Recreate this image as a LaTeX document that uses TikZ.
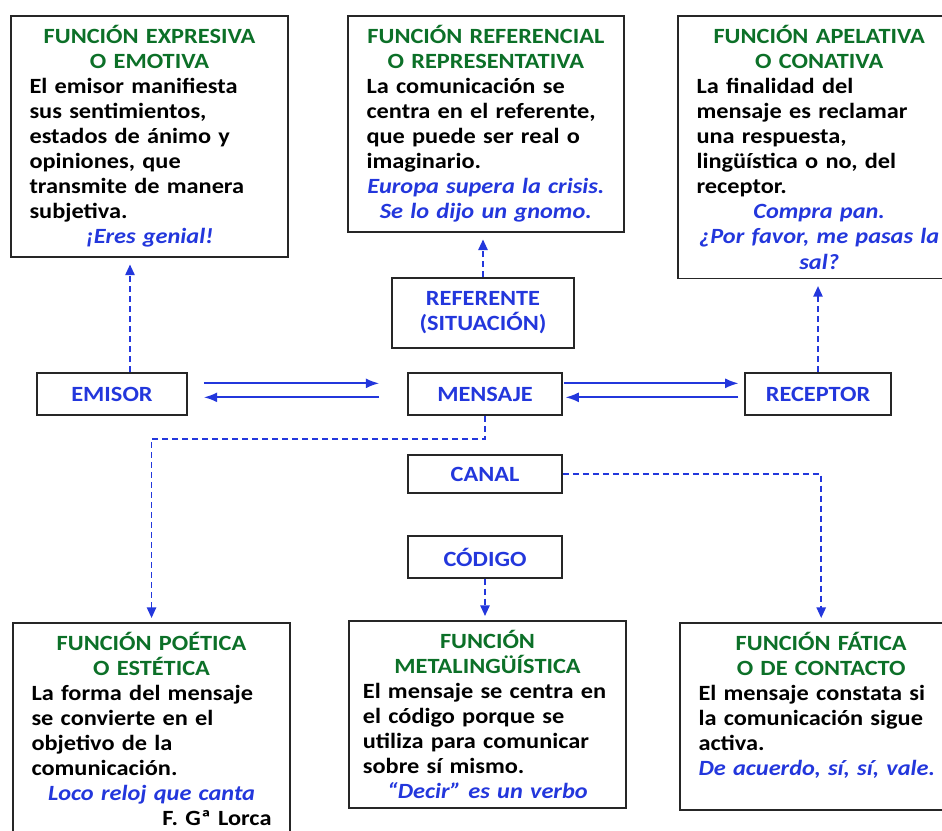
\documentclass[tikz,border=0pt]{standalone}
\usepackage{fontspec}
\setmainfont{Carlito}[FakeStretch=1.12]
\usetikzlibrary{arrows.meta}

\definecolor{verdet}{RGB}{12,112,40}
\definecolor{azul}{RGB}{35,55,220}
\newcommand{\titulo}[1]{{\centering\color{verdet}#1\par}}
\newcommand{\ejemplo}[1]{{\centering\color{azul}\itshape #1\par}}

\begin{document}
\begin{tikzpicture}[x=0.75pt,y=-0.75pt,
  every node/.style={font=\fontsize{16.3pt}{18.8pt}\selectfont\bfseries},
  funcion/.style={draw=black!85, line width=1.3pt, anchor=north west,
    inner xsep=14pt, inner ysep=7pt, text width=#1},
  caja/.style={draw=black!85, line width=1.3pt, text=azul, align=center},
  flecha/.style={draw=azul, line width=1.3pt, -{Latex[length=10pt,width=7.5pt]}},
  punteada/.style={draw=azul, line width=1.3pt, dash pattern=on 4.5pt off 3pt,
    -{Triangle[length=8pt,width=7pt]}, shorten >=5pt}]
  \useasboundingbox (0,0) rectangle (942,831);

  % funciones de arriba
  \node[funcion=180pt] (expresiva) at (10,15) {\titulo{FUNCIÓN EXPRESIVA\\O EMOTIVA}
    \raggedright El emisor manifiesta\\ sus sentimientos,\\ estados de ánimo y\\
    opiniones, que\\ transmite de manera\\ subjetiva.\par
    \ejemplo{¡Eres genial!}};
  \node[funcion=179pt] (referencial) at (347,15) {\titulo{FUNCIÓN REFERENCIAL\\O REPRESENTATIVA}
    \raggedright La comunicación se\\ centra en el referente,\\ que puede ser real o\\
    imaginario.\par
    \ejemplo{Europa supera la crisis.\\ Se lo dijo un gnomo.}};
  \node[funcion=184pt] (apelativa) at (677,15) {\titulo{FUNCIÓN APELATIVA\\O CONATIVA}
    \raggedright La finalidad del\\ mensaje es reclamar\\ una respuesta,\\
    lingüística o no, del\\ receptor.\par
    \ejemplo{Compra pan.\\ ¿Por favor, me pasas la\\ sal?}};

  % elementos de la comunicacion
  \node[caja, minimum width=136.5pt, minimum height=52.5pt] (referente) at (483,313) {REFERENTE\\(SITUACIÓN)};
  \node[caja, minimum width=112.5pt, minimum height=31.5pt] (emisor) at (112,394) {EMISOR};
  \node[caja, minimum width=115.5pt, minimum height=31.5pt] (mensaje) at (485,394) {MENSAJE};
  \node[caja, minimum width=110pt, minimum height=31.5pt] (receptor) at (818,394) {RECEPTOR};
  \node[caja, minimum width=115.5pt, minimum height=28.5pt] (canal) at (485,474) {CANAL};
  \node[caja, minimum width=115.5pt, minimum height=31pt] (codigo) at (485,557) {CÓDIGO};

  % funciones de abajo
  \node[funcion=180pt] (poetica) at (12,622) {\titulo{FUNCIÓN POÉTICA\\O ESTÉTICA}
    \raggedright La forma del mensaje\\ se convierte en el\\ objetivo de la\\
    comunicación.\par
    \ejemplo{Loco reloj que canta}
    {\raggedleft F. Gª Lorca\par}};
  \node[funcion=187pt, inner xsep=10.5pt] (metaling) at (348,620) {\titulo{FUNCIÓN\\METALINGÜÍSTICA}
    \raggedright El mensaje se centra en\\ el código porque se\\ utiliza para comunicar\\
    sobre sí mismo.\par
    \ejemplo{“Decir” es un verbo}};
  \node[funcion=184pt] (fatica) at (679,622) {\titulo{FUNCIÓN FÁTICA\\O DE CONTACTO}
    \raggedright El mensaje constata si\\ la comunicación sigue\\ activa.\\
    {\color{azul}\itshape De acuerdo, sí, sí, vale.}\par
    \rule{0pt}{12pt}};

  % emisor - mensaje - receptor
  \draw[flecha, shorten <=12pt, shorten >=21pt] ([yshift=8pt]emisor.east) -- ([yshift=8pt]mensaje.west);
  \draw[flecha, shorten <=21pt, shorten >=12pt] ([yshift=-2.5pt]mensaje.west) -- ([yshift=-2.5pt]emisor.east);
  \draw[flecha, shorten <=1pt, shorten >=4pt] ([yshift=8pt]mensaje.east) -- ([yshift=8pt]receptor.west);
  \draw[flecha, shorten <=4pt, shorten >=2pt] ([yshift=-2.5pt]receptor.west) -- ([yshift=-2.5pt]mensaje.east);

  % hacia las funciones
  \draw[punteada] ([xshift=13.5pt]emisor.north) -- ([xshift=13.5pt]emisor.north |- expresiva.south);
  \draw[punteada] (referente.north) -- (referente.north |- referencial.south);
  \draw[punteada] (receptor.north) -- (receptor.north |- apelativa.south);
  \draw[punteada, shorten >=3pt] (mensaje.south) -- ++(0,23) -| (poetica.north);
  \draw[punteada, shorten >=3pt] (canal.east) -| (fatica.north);
  \draw[punteada, shorten >=3pt] (codigo.south) -- (codigo.south |- metaling.north);
\end{tikzpicture}
\end{document}
